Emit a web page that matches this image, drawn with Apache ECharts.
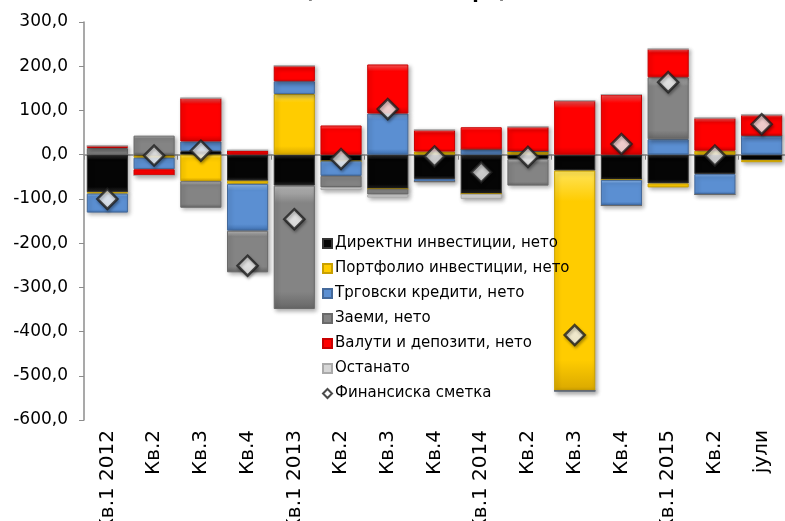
<!DOCTYPE html>
<html>
<head>
<meta charset="utf-8">
<script src="https://cdn.jsdelivr.net/npm/echarts@6/dist/echarts.min.js"></script>
<style>
  html, body { margin: 0; padding: 0; background: #fff; }
  #chart { width: 785px; height: 521px; }
</style>
</head>
<body>
<div id="chart"></div>
<script>
// Quarters of the period
const categories = ['Кв.1 2012', 'Кв.2', 'Кв.3', 'Кв.4', 'Кв.1 2013', 'Кв.2', 'Кв.3', 'Кв.4',
                    'Кв.1 2014', 'Кв.2', 'Кв.3', 'Кв.4', 'Кв.1 2015', 'Кв.2', 'јули'];

// Components of the financial account (millions of euros)
const directInvestment    = [-85, -2, 8, -59, -70, -15, -78, -55, -89, -10, -36, -57, -65, -44, -12];
const portfolioInvestment = [-3, -5, -60, -7, 137, 0, 0, 7, 0, 8, -498, 0, -9, 9, -5];
const tradeCredits        = [-43, -26, 22, -106, 29, -33, 93, -6, 12, 0, 0, -58, 35, -46, 43];
const loans               = [15, 43, -60, -94, -279, -26, -12, 0, 0, -60, 0, 0, 140, 0, 0];
const currencyDeposits    = [5, -14, 98, 10, 35, 66, 111, 49, 50, 55, 122, 136, 64, 74, 47];
const other               = [0, 0, 0, 0, 0, -6, -7, 0, -11, 0, 0, 0, 0, 0, 0];
const financialAccount    = [-100, -2, 9, -251, -146, -10, 103, -4, -40, -5, -408, 24, 164, -2, 69];

// Y axis ticks
const yMin = -600, yMax = 300, yStep = 100;

const FONT = 'DejaVu Sans';

function bevel(light, base, dark) {
  return {
    type: 'linear', x: 0, y: 0, x2: 0, y2: 1,
    colorStops: [
      { offset: 0, color: light },
      { offset: 0.14, color: base },
      { offset: 0.86, color: base },
      { offset: 1, color: dark }
    ]
  };
}

const barDefs = [
  { name: 'Директни инвестиции, нето',   data: directInvestment,    fill: bevel('#3a3a3a', '#050505', '#2a2a2a'), border: '#333333' },
  { name: 'Портфолио инвестиции, нето',  data: portfolioInvestment, fill: bevel('#ffe45a', '#ffcc00', '#d9a800'), border: '#c9a000' },
  { name: 'Трговски кредити, нето',      data: tradeCredits,        fill: bevel('#8fb8ea', '#5b8fd2', '#3f70b0'), border: '#44699a' },
  { name: 'Заеми, нето',                 data: loans,               fill: bevel('#b8b8b8', '#848484', '#666666'), border: '#6a6a6a' },
  { name: 'Валути и депозити, нето',     data: currencyDeposits,    fill: bevel('#ff5a5a', '#ff0000', '#d40000'), border: '#c80000' },
  { name: 'Останато',                    data: other,               fill: bevel('#f2f2f2', '#d6d6d6', '#b4b4b4'), border: '#aaaaaa' }
];

const series = barDefs.map(d => ({
  name: d.name,
  type: 'bar',
  stack: 'fa',
  xAxisIndex: 0,
  barCategoryGap: '12%',
  data: d.data,
  itemStyle: {
    color: d.fill,
    borderColor: d.border,
    borderWidth: 1,
    shadowColor: 'rgba(0,0,0,0.30)',
    shadowBlur: 4,
    shadowOffsetX: 2,
    shadowOffsetY: 2
  },
  emphasis: { disabled: true }
}));

series.push({
  name: 'Финансиска сметка',
  type: 'scatter',
  xAxisIndex: 0,
  symbol: 'diamond',
  symbolSize: 20,
  z: 10,
  data: financialAccount,
  itemStyle: {
    color: {
      type: 'radial', x: 0.5, y: 0.45, r: 0.6,
      colorStops: [{ offset: 0, color: '#ffffff' }, { offset: 0.6, color: '#f8f8f8' }, { offset: 1, color: '#dcdcdc' }]
    },
    borderColor: '#1e1e1e',
    borderWidth: 2.5,
    shadowColor: 'rgba(0,0,0,0.35)',
    shadowBlur: 3,
    shadowOffsetX: 1,
    shadowOffsetY: 2
  },
  emphasis: { disabled: true }
});

const chart = echarts.init(document.getElementById('chart'), null, { renderer: 'canvas' });

chart.setOption({
  animation: false,
  backgroundColor: '#ffffff',
  textStyle: { fontFamily: FONT },
  title: {
    text: '(во милиони евра)',
    left: 401,
    textAlign: 'center',
    top: -21,
    textStyle: { fontFamily: FONT, fontSize: 19, fontWeight: 'bold', color: '#000' }
  },
  legend: {
    orient: 'vertical',
    left: 317,
    top: 231,
    itemWidth: 9,
    itemHeight: 9,
    itemGap: 10,
    icon: 'rect',
    textStyle: { fontFamily: FONT, fontSize: 15, color: '#000', padding: [0, 0, 0, -2] },
    data: [
      ...barDefs.map(d => ({ name: d.name, icon: 'rect' })),
      { name: 'Финансиска сметка', icon: 'diamond' }
    ]
  },
  grid: { left: 84, right: 0, top: 22, bottom: 101, containLabel: false, outerBoundsMode: 'none' },
  xAxis: [
    {
      type: 'category',
      data: categories,
      axisLine: { onZero: true, lineStyle: { color: '#8c8c8c', width: 1.5 } },
      axisTick: { show: true, length: 5, lineStyle: { color: '#8c8c8c' } },
      axisLabel: { show: false },
      splitLine: { show: false }
    },
    {
      type: 'category',
      data: categories,
      position: 'bottom',
      axisLine: { show: false, onZero: false },
      axisTick: { show: false },
      axisLabel: { rotate: 90, fontFamily: FONT, fontSize: 20, color: '#000', margin: 10, interval: 0 },
      splitLine: { show: false }
    }
  ],
  yAxis: {
    type: 'value',
    min: yMin,
    max: yMax,
    interval: yStep,
    axisLine: { show: true, lineStyle: { color: '#8c8c8c', width: 1.5 } },
    axisTick: { show: true, length: 5, lineStyle: { color: '#8c8c8c' } },
    splitLine: { show: false },
    axisLabel: {
      fontFamily: FONT, fontSize: 17, color: '#000', margin: 16,
      formatter: v => v.toFixed(1).replace('.', ',')
    }
  },
  series: series
});
</script>
</body>
</html>
